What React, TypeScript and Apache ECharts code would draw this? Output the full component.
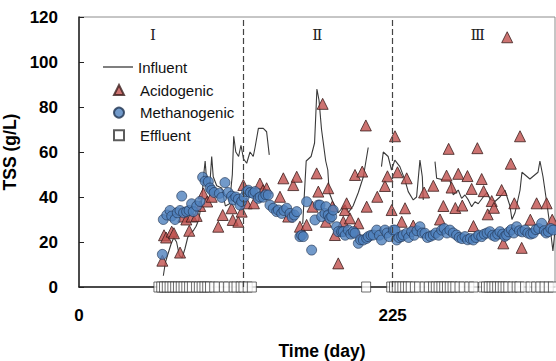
import React, { useEffect, useRef } from "react";
import * as echarts from "echarts";

// Influent TSS (g/L), segments of [day, value]
const influentSeg1: number[][] = [
  [60.5, 5], [62, 11], [64, 15], [66, 19], [68, 22], [70, 20], [72, 14], [74, 13], [76, 17], [78, 22],
  [80, 24], [82, 25], [84, 27], [86, 30], [88, 38], [89.5, 50], [90.5, 56], [92, 44], [93.5, 42], [95.2, 58],
  [96.3, 49], [98.8, 45], [102.4, 44], [105, 36], [108, 37], [110, 50], [111, 67], [112.5, 60], [114.5, 58],
  [116.2, 63], [118, 57], [120.3, 55], [122.7, 60], [125, 58], [126.3, 62], [128.7, 70.5], [132.2, 70.5],
  [134.6, 69], [136.5, 58.7],
];
const influentSeg2: number[][] = [
  [160.5, 28], [163, 56], [166.5, 58], [169, 64], [170.7, 88], [172.2, 83], [174, 70], [177, 56], [178.5, 52],
  [179.5, 42], [182, 38], [186, 33], [190, 36], [193.2, 33], [196.6, 36], [200.4, 42], [204, 49], [207.5, 62],
];
const influentSeg3: number[][] = [
  [217, 53.5], [218.3, 60], [221.8, 58], [224.2, 52], [226.6, 56.4], [230.2, 53.5], [233.8, 47.6], [236.2, 42.4],
  [239.8, 38.7], [242.2, 40], [244.6, 56.4], [246.3, 49], [247, 38.7],
];
const influentSeg4: number[][] = [
  [255.4, 55.7], [256.6, 48.3], [261.4, 47.6], [266.1, 47.6], [268.5, 40.9], [272.1, 43.1], [274.5, 39.4],
  [276.9, 40.9], [279.3, 38.7], [281.7, 35.7], [284.1, 37.9], [286.4, 37], [290, 40], [292.7, 42], [295, 39],
  [298.4, 38], [302, 40], [305.6, 43], [309.2, 36], [310.6, 30], [312.8, 33], [316.4, 43], [317.8, 51],
  [323.5, 48], [329.3, 51], [330.7, 56], [332.9, 49], [335.7, 37], [337.9, 27], [340, 16], [341.5, 25],
];

// Acidogenic reactor TSS
const acidogenic: number[][] = [
  [59.8, 11.7], [61, 23], [62.5, 22], [66.5, 24.6], [68.1, 23.9], [72.5, 15.3], [74.8, 31.3], [77, 30],
  [79.1, 25], [80.8, 31.3], [84.4, 31.6], [87, 36], [89.2, 41.6], [92, 38], [95.2, 40.1], [99.9, 26.8],
  [103.1, 32], [109.5, 35], [110.3, 29.8], [114.3, 29], [116.7, 33.5], [117.9, 45.3],
  [120.3, 37.2], [125.5, 37.2], [129.8, 46], [132, 43], [134.6, 43.9], [144.2, 40.1], [146.6, 48.3],
  [150.1, 31.3], [153.7, 45.3], [156.2, 49], [158.5, 26.8], [163.3, 27.6], [167.5, 35.7], [170.5, 50.5],
  [171.7, 42.4], [174.8, 81.4], [177.2, 29], [178.8, 43.9], [181.8, 35.8], [183.6, 23.1], [186, 10.5],
  [189.6, 29], [190.8, 34.2], [192, 37.2], [194.4, 30.5], [198, 49.8], [198.7, 24.6], [200.4, 28.3],
  [203.2, 51.3], [205.8, 71.8], [206.4, 35.7], [214, 40.1], [219.5, 44.9], [221.3, 49.2], [224.3, 34.2],
  [226.7, 67], [228.5, 51], [231.5, 29], [233.9, 35], [235.1, 48.3], [239.8, 27.3], [247.6, 42],
  [254.2, 45], [259, 30], [261.4, 36], [263.7, 49.5], [265.2, 61.4], [267.3, 44.2], [270, 35.1],
  [272.1, 50.3], [275, 36.2], [278.7, 49.3], [281.7, 43.6], [283, 27.1], [285.8, 61.7], [288.9, 48],
  [290.3, 42.6], [293.2, 32.3], [296.1, 38.2], [297.7, 35.2], [303.2, 43.1], [304.4, 19.4], [307.2, 111],
  [309.8, 54.8], [312.3, 37.2], [316.4, 67], [317.6, 17.4], [323.8, 29.9], [328.3, 37.2], [335.5, 37.2],
  [339.5, 29.9],
];

// Methanogenic reactor TSS
const methanogenic: number[][] = [
  [59.8, 14.5], [60.5, 30], [63, 32], [65.3, 34], [66.5, 31.5], [68.9, 30], [70.5, 33], [72.5, 34],
  [73.7, 40.4], [75, 33], [77.2, 33.5], [79, 34], [80.8, 37], [82, 33.5], [84.5, 36], [86.8, 38],
  [88.7, 48.8], [90.5, 47], [92.8, 46.8], [94, 44], [95.2, 43], [97, 42], [100.7, 41.6], [102.4, 39.8],
  [104.7, 46.4], [107, 42], [109.5, 40.4], [110.7, 38.7], [112.5, 40], [114.3, 39], [115.5, 36.4],
  [116.7, 38], [118.5, 40], [120.3, 42.4], [121.5, 43], [123, 42], [125, 41.6], [126.3, 42.4],
  [128.6, 39.4], [130, 40], [132.2, 39.9], [134, 41], [135.8, 40.9], [137, 36.4], [139.4, 35],
  [141.8, 33.5], [143, 34.2], [145.4, 32.7], [147, 34], [149, 35], [151.4, 32.7], [153, 31], [154.5, 32],
  [156.2, 33.5], [158.5, 22.4], [159.7, 23], [160.9, 22.4], [163.3, 37.9], [166.9, 16.4], [169.3, 29.8],
  [171.7, 36.4], [172.9, 36.4], [174.1, 31.3], [176.5, 32.7], [177.2, 35.7], [178.8, 32], [180, 30.5],
  [181.3, 31.3], [182.4, 34.2], [184.8, 26.8], [186, 24.6], [188.4, 24.6], [189.6, 24.6], [191, 23],
  [193.2, 25.3], [195, 23.5], [196.8, 24.6], [198, 23.9], [200.4, 19.4], [202, 21], [204, 20.9],
  [206.4, 21.6], [207.5, 22.4], [209.5, 23], [211.2, 23.1], [213.6, 25.3], [215.5, 23], [217.1, 20.9],
  [219.5, 25.3], [221, 24], [222.6, 22.4], [225.5, 25.3], [226.7, 25.3], [227.9, 20.9], [229.5, 22],
  [231.5, 22.4], [232.6, 23.1], [235.1, 23.9], [236.5, 22], [238.6, 24.6], [240.5, 23], [242.5, 25],
  [244.6, 26.8], [246.2, 24], [248.2, 23.9], [250, 22], [252, 22.5], [254.2, 23.1], [256, 24], [258, 23],
  [260.2, 25.3], [262, 26], [264, 24], [266.1, 25.3], [268.5, 24], [270.9, 23.1], [272.8, 22],
  [274.8, 21.5], [276.9, 22.4], [278.8, 21], [280.8, 21.5], [282.9, 20.9], [284.8, 22], [286.8, 23],
  [288.9, 22.4], [290.8, 23.5], [292.8, 24], [294.8, 24.6], [296.8, 23], [298.6, 22.5], [300.4, 23.5],
  [302, 24.6], [304, 23.5], [305.5, 22.5], [306.8, 23.1], [308.5, 24.5], [310.2, 25.5], [312, 24],
  [314, 26.8], [316, 25], [318, 24.5], [320, 25.3], [322, 24], [324, 23.5], [325.9, 23.9], [327.8, 25.5],
  [329.8, 26], [331.9, 28.3], [333.8, 25], [335.2, 24], [336.7, 24.6], [338.5, 26], [340.2, 25.3],
];

// Effluent TSS (days sampled; values ~0)
const effluentDays: number[] = [
  57, 59, 61, 63, 65, 67, 69, 71, 73, 75, 77, 79, 81, 84, 86, 88, 90, 92, 94, 97, 100, 104, 107,
  111, 113, 116, 118, 121, 124,
  206,
  224, 226, 228, 230, 232, 234, 236, 238, 241, 244, 248, 251,
  254, 256, 258, 260, 262, 264, 266, 268, 270, 273, 276, 280, 283,
  290, 292, 294, 296, 298, 300, 302, 304, 306, 308, 311, 314,
  316, 320, 324, 328, 331, 334, 337, 340,
];
const effluentValues: number[] = effluentDays.map(() => 0);

const phaseBoundaries: number[] = [118, 225];
const phaseLabels: string[] = ["Ⅰ", "Ⅱ", "Ⅲ"];
const phaseLabelDays: number[] = [53, 171, 286];
const xTickLabels: number[] = [0, 225];

export default function App() {
  const ref = useRef<HTMLDivElement>(null);

  useEffect(() => {
    if (!ref.current) return;
    const chart = echarts.init(ref.current, undefined, { renderer: "svg" });
    const brk: any[] = [["-", "-"]];
    const influent: any[] = [
      ...influentSeg1, ...brk, ...influentSeg2, ...brk, ...influentSeg3, ...brk, ...influentSeg4,
    ];
    const effluent = effluentDays.map((d, i) => [d, effluentValues[i]]);
    const font = "'Liberation Sans', Arial, sans-serif";
    const legendText = { fontFamily: font, fontSize: 15, color: "#111", lineHeight: 15 };

    chart.setOption({
      animation: false,
      backgroundColor: "#ffffff",
      grid: {
        left: 79,
        top: 17,
        right: 1,
        bottom: 74,
        containLabel: false,
        outerBoundsMode: "none",
        show: true,
        borderColor: "#8c8c8c",
        borderWidth: 1,
      },
      legend: [
        {
          orient: "vertical",
          left: 103,
          top: 59.5,
          padding: 0,
          itemWidth: 30,
          itemHeight: 10,
          data: [{ name: "Influent", icon: "path://M0 0 H30 V1.3 H0 Z" }],
          textStyle: legendText,
        },
        {
          orient: "vertical",
          left: 113,
          top: 82.5,
          padding: 0,
          itemWidth: 10,
          itemHeight: 10,
          itemGap: 7.6,
          data: ["Acidogenic", "Methanogenic", "Effluent"],
          textStyle: { ...legendText, padding: [0, 0, 0, 11] },
        },
      ],
      xAxis: {
        type: "value",
        min: 0,
        max: 341.5,
        interval: 225,
        name: "Time (day)",
        nameLocation: "middle",
        nameGap: 55,
        nameTextStyle: { fontFamily: font, fontSize: 17.5, fontWeight: "bold", color: "#000", padding: [0, 0, 0, 10] },
        axisLine: { lineStyle: { color: "#222", width: 1.5 } },
        axisTick: { show: false },
        splitLine: { show: false },
        axisLabel: {
          margin: 20,
          fontFamily: font,
          fontSize: 17,
          fontWeight: "bold",
          color: "#000",
          formatter: (v: number) => (xTickLabels.indexOf(Math.round(v)) >= 0 && Math.abs(v - Math.round(v)) < 1e-6 ? String(v) : ""),
        },
      },
      yAxis: {
        type: "value",
        min: 0,
        max: 120,
        interval: 20,
        name: "TSS (g/L)",
        nameLocation: "middle",
        nameGap: 44,
        nameTextStyle: { fontFamily: font, fontSize: 17.5, fontWeight: "bold", color: "#000" },
        axisLine: { show: true, lineStyle: { color: "#222", width: 1.5 } },
        axisTick: { show: true, inside: true, length: 5, lineStyle: { color: "#222" } },
        splitLine: { show: false },
        axisLabel: { margin: 21, fontFamily: font, fontSize: 17, fontWeight: "bold", color: "#000" },
      },
      series: [
        {
          name: "Influent",
          type: "line",
          data: influent,
          symbol: "none",
          showSymbol: false,
          connectNulls: false,
          lineStyle: { color: "#3a3a3a", width: 1.1 },
          itemStyle: { color: "#3a3a3a" },
          z: 1,
        },
        {
          name: "Acidogenic",
          type: "scatter",
          data: acidogenic,
          symbol: "triangle",
          symbolSize: 11,
          itemStyle: { color: "#C0504D", borderColor: "#3b1e1d", borderWidth: 1 },
          z: 2,
        },
        {
          name: "Methanogenic",
          type: "scatter",
          data: methanogenic,
          symbol: "circle",
          symbolSize: 10,
          itemStyle: { color: "#4F81BD", borderColor: "#1f3350", borderWidth: 0.8 },
          z: 3,
        },
        {
          name: "Effluent",
          type: "scatter",
          data: effluent,
          symbol: "rect",
          symbolSize: [9, 10],
          itemStyle: { color: "#ffffff", borderColor: "#333", borderWidth: 0.9 },
          z: 4,
          markLine: {
            silent: true,
            symbol: "none",
            label: { show: false },
            lineStyle: { color: "#444", type: [6, 3], width: 1.2 },
            data: phaseBoundaries.map((d) => ({ xAxis: d })),
          },
          markPoint: {
            silent: true,
            symbol: "rect",
            symbolSize: 1,
            itemStyle: { color: "transparent" },
            label: {
              show: true,
              position: "inside",
              fontFamily: "'DejaVu Serif', 'Liberation Serif', serif",
              fontSize: 15,
              color: "#222",
            },
            data: phaseLabels.map((t, i) => ({
              coord: [phaseLabelDays[i], 112],
              value: t,
              label: { formatter: t },
            })),
          },
        },
      ],
    });
    return () => chart.dispose();
  }, []);

  return (
    <div
      ref={ref}
      style={{ position: "fixed", left: 0, top: 0, width: 556, height: 361 }}
    />
  );
}
